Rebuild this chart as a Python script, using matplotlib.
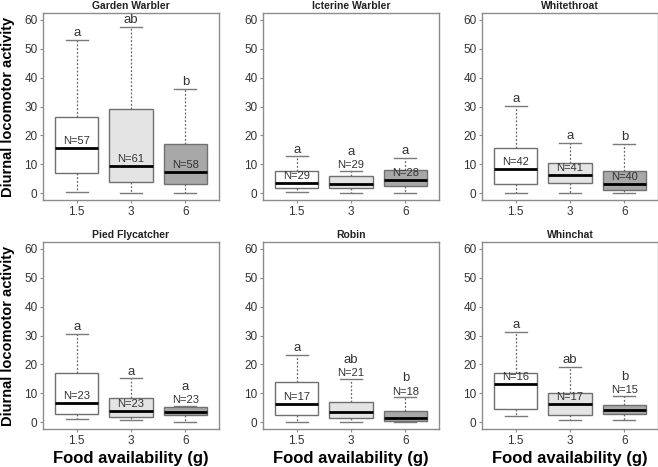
import matplotlib.pyplot as plt
import numpy as np

plt.rcParams["font.family"] = ["Liberation Sans", "DejaVu Sans"]

# Food availability groups (x tick labels)
food = ["1.5", "3", "6"]

species = ["Garden Warbler", "Icterine Warbler", "Whitethroat",
           "Pied Flycatcher", "Robin", "Whinchat"]

# box statistics: [lower whisker, Q1, median, Q3, upper whisker]
garden_warbler = [[0.4, 7.0, 15.5, 26.3, 53.2],
                  [0.0, 3.9, 9.3, 29.2, 57.7],
                  [0.1, 3.1, 7.2, 17.0, 36.0]]
icterine_warbler = [[0.5, 1.8, 3.6, 7.7, 12.7],
                    [0.1, 1.8, 3.0, 5.9, 7.7],
                    [0.0, 2.3, 4.4, 8.1, 12.3]]
whitethroat = [[0.1, 3.1, 8.3, 15.5, 30.2],
               [0.1, 3.5, 6.3, 10.4, 17.5],
               [0.1, 0.9, 3.2, 7.7, 17.0]]
pied_flycatcher = [[1.2, 2.9, 6.7, 17.0, 30.5],
                   [0.6, 1.7, 3.8, 8.2, 15.2],
                   [0.1, 2.5, 3.5, 5.2, 5.6]]
robin = [[0.0, 2.4, 6.3, 13.9, 23.4],
         [0.0, 1.3, 3.5, 6.8, 14.9],
         [0.0, 0.5, 1.4, 3.8, 8.6]]
whinchat = [[2.2, 4.5, 13.2, 17.0, 31.3],
            [0.6, 2.6, 6.2, 10.2, 19.2],
            [0.8, 2.9, 4.1, 6.0, 9.0]]

stats = [garden_warbler, icterine_warbler, whitethroat,
         pied_flycatcher, robin, whinchat]

# sample sizes and significance letters
n_sizes = [[57, 61, 58], [29, 29, 28], [42, 41, 40],
           [23, 23, 23], [17, 21, 18], [16, 17, 15]]
letters = [["a", "ab", "b"], ["a", "a", "a"], ["a", "a", "b"],
           ["a", "a", "a"], ["a", "ab", "b"], ["a", "ab", "b"]]
# True where the N label sits above the whisker instead of on the median
n_above = [[False, False, False], [False, True, False], [False, False, False],
           [False, False, True], [False, True, True], [False, False, True]]

box_colors = ["white", "#e4e4e4", "#a8a8a8"]
frame_col = "#8c8c8c"
text_col = "#333333"

W, H = 658, 467
fig = plt.figure(figsize=(W / 100, H / 100), dpi=100)

col_left = [43, 263, 482]
row_top = [13, 242]
ax_w, ax_h = 176, 187

for i, sp in enumerate(species):
    r, c = divmod(i, 3)
    ax = fig.add_axes([col_left[c] / W, 1 - (row_top[r] + ax_h) / H, ax_w / W, ax_h / H])

    bxp_stats = []
    for j, s in enumerate(stats[i]):
        bxp_stats.append(dict(whislo=s[0], q1=s[1], med=s[2], q3=s[3], whishi=s[4],
                              fliers=[], label=food[j]))
    bp = ax.bxp(bxp_stats, positions=[1, 2, 3], widths=0.8, patch_artist=True,
                showfliers=False,
                boxprops=dict(edgecolor="#707070", linewidth=1.0),
                medianprops=dict(color="black", linewidth=2.0),
                whiskerprops=dict(color="#666666", linewidth=0.9, linestyle=(0, (1.5, 1.5))),
                capprops=dict(color="#7a7a7a", linewidth=1.0),
                capwidths=0.4)
    for patch, col in zip(bp["boxes"], box_colors):
        patch.set_facecolor(col)

    for j, s in enumerate(stats[i]):
        x = j + 1
        if n_above[i][j]:
            ax.annotate(f"N={n_sizes[i][j]}", (x, s[4]), xytext=(0, 0.5),
                        textcoords="offset points", ha="center", va="bottom",
                        fontsize=8, color=text_col)
            ax.annotate(letters[i][j], (x, s[4]), xytext=(0, 9.5),
                        textcoords="offset points", ha="center", va="bottom",
                        fontsize=9.5, color=text_col)
        else:
            ax.annotate(f"N={n_sizes[i][j]}", (x, s[2]), xytext=(0, 1.5),
                        textcoords="offset points", ha="center", va="bottom",
                        fontsize=8, color=text_col)
            ax.annotate(letters[i][j], (x, s[4]), xytext=(0, 0.5),
                        textcoords="offset points", ha="center", va="bottom",
                        fontsize=9.5, color=text_col)

    ax.set_xlim(0.38, 3.62)
    ax.set_ylim(-2.4, 62.4)
    ax.set_yticks(np.arange(0, 61, 10))
    ax.set_xticks([1, 2, 3])
    ax.set_xticklabels(food)
    ax.tick_params(axis="both", labelsize=8.5, labelcolor=text_col, color=frame_col,
                   length=2.5, width=0.8, pad=1.5)
    for sp_ in ax.spines.values():
        sp_.set_color(frame_col)
        sp_.set_linewidth(1.0)
    ax.set_title(sp, fontsize=7.5, fontweight="bold", color="#222222", pad=3)

    if c == 0:
        fig.text(8 / W, 1 - (row_top[r] + ax_h / 2) / H, "Diurnal locomotor activity",
                 rotation=90, ha="center", va="center", fontsize=10.5,
                 fontweight="bold", color="black")
    if r == 1:
        ax.text(0.5, -0.16, "Food availability (g)", transform=ax.transAxes,
                ha="center", va="center", fontsize=12, fontweight="bold", color="black")

fig.savefig("out.png", dpi=100)
